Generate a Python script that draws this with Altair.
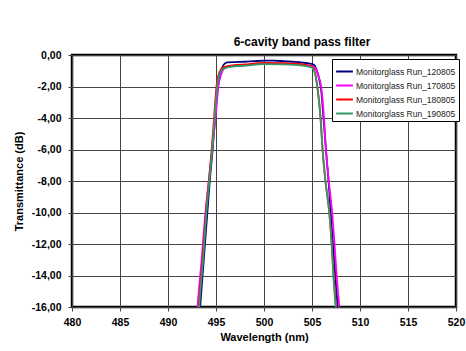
import altair as alt
import pandas as pd

series_names = ["Monitorglass Run_120805", "Monitorglass Run_170805",
                "Monitorglass Run_180805", "Monitorglass Run_190805"]
series_colors = ["#000080", "#FF00FF", "#FF0000", "#339966"]

wl_120805 = [493.2, 493.35, 493.7, 494.05, 494.35, 494.65, 494.9, 495.15, 495.4, 495.65, 495.9, 496.2,
             497.0, 498.0, 499.0, 500.0, 501.0, 502.0, 503.0, 504.0, 504.8, 505.2, 505.45, 505.7,
             505.95, 506.2, 506.45, 506.75, 507.0, 507.25, 507.5, 507.68, 507.8]
db_120805 = [-17.3, -16.0, -13.2, -10.4, -8.0, -6.0, -4.0, -2.3, -1.3, -0.8, -0.55, -0.47,
             -0.45, -0.43, -0.39, -0.36, -0.36, -0.39, -0.43, -0.48, -0.55, -0.62, -0.9, -1.4,
             -2.2, -4.0, -6.0, -8.2, -10.4, -12.5, -14.6, -16.0, -17.0]

wl_170805 = [492.95, 493.07, 493.5, 493.9, 494.25, 494.6, 494.95, 495.25, 495.55, 495.85, 496.5,
             498.0, 500.0, 502.0, 504.0, 505.0, 505.35, 505.65, 505.95, 506.25, 506.45, 506.75,
             507.1, 507.35, 507.57, 507.85, 508.0]
db_170805 = [-17.0, -16.0, -13.0, -10.0, -8.0, -6.0, -4.0, -2.0, -1.2, -0.85, -0.72,
             -0.65, -0.55, -0.55, -0.62, -0.7, -0.85, -1.3, -2.0, -4.0, -6.0, -8.0,
             -10.0, -12.0, -14.0, -16.0, -17.0]

wl_180805 = [493.1, 493.2, 493.6, 493.95, 494.25, 494.55, 494.8, 495.05, 495.35, 495.7, 496.5,
             498.0, 500.0, 502.0, 504.0, 505.0, 505.3, 505.55, 505.9, 506.1, 506.4, 506.8,
             507.05, 507.25, 507.5, 507.65]
db_180805 = [-17.0, -16.0, -13.0, -10.0, -8.0, -6.0, -4.0, -2.0, -1.1, -0.8, -0.68,
             -0.6, -0.5, -0.52, -0.6, -0.75, -1.1, -2.0, -4.0, -6.0, -8.0, -10.0,
             -12.0, -14.0, -16.0, -17.0]

wl_190805 = [493.15, 493.25, 493.65, 494.0, 494.3, 494.6, 494.85, 495.12, 495.4, 495.75, 496.5,
             498.0, 500.0, 502.0, 504.0, 505.0, 505.3, 505.55, 505.88, 506.1, 506.4, 506.8,
             507.05, 507.22, 507.47, 507.6]
db_190805 = [-17.0, -16.0, -13.0, -10.0, -8.0, -6.0, -4.0, -2.0, -1.15, -0.88, -0.75,
             -0.68, -0.58, -0.6, -0.68, -0.8, -1.15, -2.0, -4.0, -6.0, -8.0, -10.0,
             -12.0, -14.0, -16.0, -17.0]

x_ticks = [480, 485, 490, 495, 500, 505, 510, 515, 520]
y_ticks = [0, -2, -4, -6, -8, -10, -12, -14, -16]

rows = []
for name, wls, dbs in zip(series_names,
                          [wl_120805, wl_170805, wl_180805, wl_190805],
                          [db_120805, db_170805, db_180805, db_190805]):
    for i, (w, d) in enumerate(zip(wls, dbs)):
        rows.append({"series": name, "wl": w, "db": d, "order": i})
df = pd.DataFrame(rows)

FONT = "Liberation Sans"

chart = alt.Chart(df).mark_line(clip=True, strokeWidth=1.8, interpolate="monotone").encode(
    x=alt.X("wl:Q", scale=alt.Scale(domain=[480, 520], nice=False, zero=False),
            axis=alt.Axis(values=x_ticks, title="Wavelength (nm)", format="d",
                          grid=True, gridColor="#444444", gridWidth=1,
                          domain=False, tickColor="#444444", tickSize=4,
                          labelPadding=6, labelFontWeight="bold", labelFontSize=10.5,
                          labelColor="black", titleFontSize=11, titleFontWeight="bold",
                          titleColor="black", titlePadding=4, labelFlush=False)),
    y=alt.Y("db:Q", scale=alt.Scale(domain=[-16, 0], nice=False, zero=False),
            axis=alt.Axis(values=y_ticks, title="Transmittance (dB)",
                          labelExpr="replace(replace(format(datum.value, '.2f'), '.', ','), '\u2212', '-')",
                          grid=True, gridColor="#444444", gridWidth=1,
                          domain=False, tickColor="#444444", tickSize=4,
                          labelPadding=7, labelFontWeight="bold", labelFontSize=10.5,
                          labelColor="black", titleFontSize=11, titleFontWeight="bold",
                          titleColor="black", titlePadding=7)),
    color=alt.Color("series:N", scale=alt.Scale(domain=series_names, range=series_colors),
                    legend=alt.Legend(title=None, orient="none", legendX=260, legendY=4,
                                      symbolType="stroke", symbolStrokeWidth=2,
                                      symbolSize=280, labelFontSize=8.5, labelFont=FONT,
                                      labelColor="#222222",
                                      fillColor="white", strokeColor="black",
                                      padding=3, rowPadding=-1, labelOffset=2)),
    order="order:Q",
).properties(
    width=384, height=252,
    title=alt.TitleParams("6-cavity band pass filter", fontSize=12, fontWeight="bold",
                          font=FONT, color="black", dx=38, offset=1),
    padding={"left": 72, "top": 55, "right": 10, "bottom": 44},
    autosize=alt.AutoSizeParams(type="none"),
).configure(font=FONT).configure_view(stroke="black", strokeWidth=2.5)

chart.save("out.html", embed_options={"renderer": "svg", "actions": False})
